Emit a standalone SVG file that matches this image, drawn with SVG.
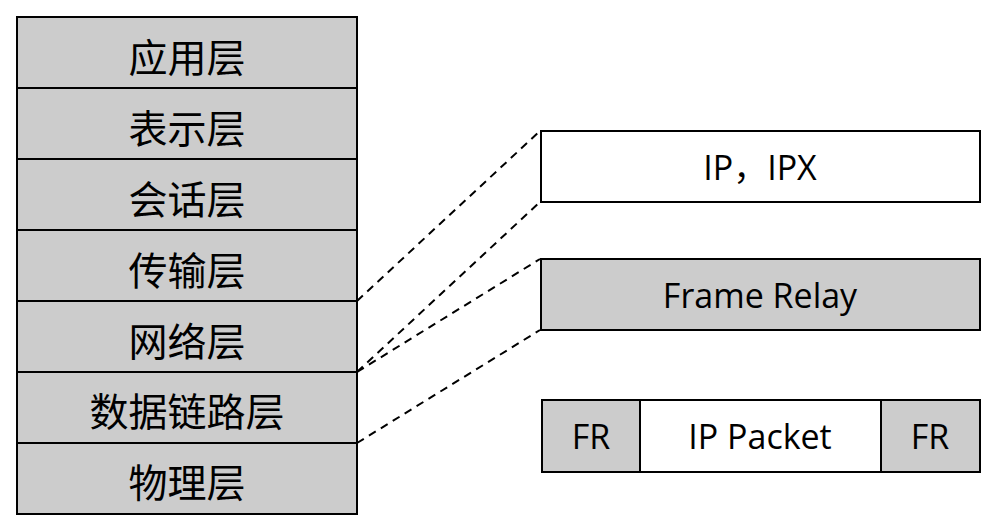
<svg xmlns="http://www.w3.org/2000/svg" width="1000" height="532" viewBox="0 0 1000 532">
<style>
.g{fill:#cccccc;stroke:#000;stroke-width:2}
.w{fill:#ffffff;stroke:#000;stroke-width:2}
.zh{font-family:"Noto Sans CJK SC","Liberation Sans",sans-serif;font-size:39px;fill:#000;text-anchor:middle;dominant-baseline:central}
.en{font-family:"Open Sans","Liberation Sans","Noto Sans CJK SC",sans-serif;font-size:34px;fill:#000;text-anchor:middle;dominant-baseline:central}
.d{fill:none;stroke:#000;stroke-width:2;stroke-dasharray:8,6}
</style>
<rect width="1000" height="532" fill="#ffffff"/>
<g id="app"><rect class="g" x="17" y="17" width="340" height="71"/><text class="zh" x="187" y="55">应用层</text></g>
<g id="pres"><rect class="g" x="17" y="88" width="340" height="71"/><text class="zh" x="187" y="126">表示层</text></g>
<g id="sess"><rect class="g" x="17" y="159" width="340" height="71"/><text class="zh" x="187" y="197">会话层</text></g>
<g id="trans"><rect class="g" x="17" y="230" width="340" height="71"/><text class="zh" x="187" y="268">传输层</text></g>
<g id="net"><rect class="g" x="17" y="301" width="340" height="71"/><text class="zh" x="187" y="339">网络层</text></g>
<g id="link"><rect class="g" x="17" y="372" width="340" height="71"/><text class="zh" x="187" y="409">数据链路层</text></g>
<g id="phys"><rect class="g" x="17" y="443" width="340" height="71"/><text class="zh" x="187" y="480">物理层</text></g>
<g id="ip"><rect class="w" x="541" y="131" width="439" height="71"/><text class="en" x="760" y="167">IP，IPX</text></g>
<g id="fr"><rect class="g" x="541" y="259" width="439" height="71"/><text class="en" x="760" y="295">Frame Relay</text></g>
<g id="frame">
<rect class="g" x="542" y="400" width="98" height="72"/>
<rect class="w" x="640" y="400" width="241" height="72"/>
<rect class="g" x="881" y="400" width="99" height="72"/>
<text class="en" x="591" y="436">FR</text>
<text class="en" x="760" y="436">IP Packet</text>
<text class="en" x="930" y="436">FR</text>
</g>
<g id="connectors">
<line class="d" x1="357" y1="301" x2="540" y2="131"/>
<line class="d" x1="357" y1="372" x2="540" y2="202"/>
<line class="d" x1="357" y1="372" x2="540" y2="259"/>
<line class="d" x1="357" y1="443" x2="540" y2="330"/>
</g>
</svg>
